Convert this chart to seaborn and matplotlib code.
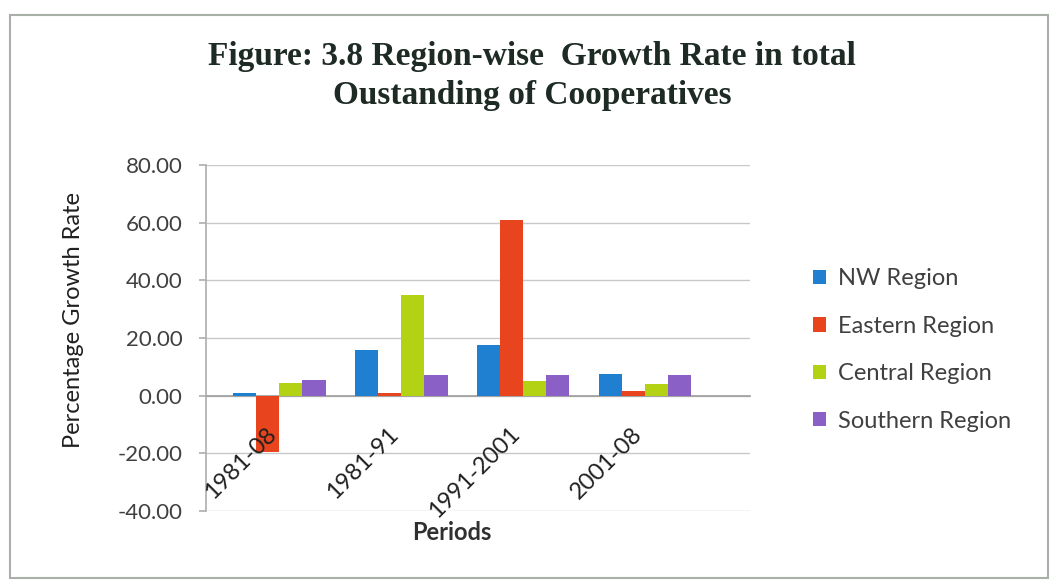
import matplotlib
matplotlib.use("Agg")
import matplotlib.pyplot as plt
import seaborn as sns
import pandas as pd
from matplotlib.patches import Rectangle
from matplotlib.transforms import ScaledTranslation

periods = ["1981-08", "1981-91", "1991-2001", "2001-08"]
regions = ["NW Region", "Eastern Region", "Central Region", "Southern Region"]
nw_region = [1.0, 16.0, 17.5, 7.5]
eastern_region = [-19.5, 1.0, 61.0, 1.5]
central_region = [4.5, 35.0, 5.0, 4.0]
southern_region = [5.5, 7.0, 7.0, 7.0]
yticks = [-40, -20, 0, 20, 40, 60, 80]

colors = ["#1F80D2", "#E8441E", "#B4D214", "#8A5FC6"]

rows = []
for reg, vals in zip(regions, [nw_region, eastern_region, central_region, southern_region]):
    for p, v in zip(periods, vals):
        rows.append({"Period": p, "Region": reg, "Value": v})
df = pd.DataFrame(rows)

sns.set_theme(style="white")
plt.rcParams["font.family"] = ["Lato", "DejaVu Sans"]

fig = plt.figure(figsize=(10.54, 5.83), dpi=100)
W, H = 1054, 583
ax = fig.add_axes([206 / W, 1 - 511 / H, (750 - 206) / W, (511 - 165) / H])

sns.barplot(data=df, x="Period", y="Value", hue="Region", order=periods,
            hue_order=regions, palette=colors, width=0.76, ax=ax,
            saturation=1, edgecolor="none", legend=True, zorder=2)

ax.set_ylim(-40, 80)
ax.set_xlim(-0.6, 3.86)
ax.set_yticks(yticks)
ax.set_yticklabels([f"{t:.2f}" for t in yticks], fontsize=16, color="#404040")
ax.yaxis.grid(False)
ax.xaxis.grid(False)
for t in yticks:
    ax.axhline(t, color="#C8C8C8", linewidth=1.0, zorder=0)
ax.set_axisbelow(False)
for s in ["top", "right"]:
    ax.spines[s].set_visible(False)
ax.spines["left"].set_color("#B0B0B0")
ax.spines["left"].set_zorder(1)
ax.spines["bottom"].set_position(("data", 0))
ax.spines["bottom"].set_color("#A0A0A0")
ax.spines["bottom"].set_zorder(1)
ax.xaxis.set_zorder(5)
ax.tick_params(axis="y", length=5, color="#B0B0B0", pad=12, left=True)
ax.tick_params(axis="x", length=0, pad=20)
ax.set_xticks(range(len(periods)))
ax.set_xticklabels(periods, rotation=45, ha="right", rotation_mode="anchor",
                   fontsize=17, color="#202020")
for lab in ax.get_xticklabels():
    lab.set_transform(lab.get_transform() + ScaledTranslation(-14 / 100, 0, fig.dpi_scale_trans))
ax.set_xlabel("")
ax.set_ylabel("")

handles, labels = ax.get_legend_handles_labels()
ax.legend(handles, labels, loc="center left", bbox_to_anchor=(792 / W, 1 - 350 / H),
          bbox_transform=fig.transFigure, frameon=False, fontsize=17,
          handlelength=0.55, handleheight=0.55, labelspacing=1.12, handletextpad=0.5,
          labelcolor="#404040")

fig.text(73 / W, 1 - 320 / H, "Percentage Growth Rate", rotation=90,
         ha="center", va="center", fontsize=17, color="#202020")
fig.text(452 / W, 1 - 532 / H, "Periods", ha="center", va="center",
         fontsize=17, fontweight="bold", color="#303030")
fig.text(532 / W, 1 - 57 / H, "Figure: 3.8 Region-wise  Growth Rate in total",
         ha="center", va="center", fontsize=24, fontweight="bold",
         family=["Liberation Serif"], color="#1E2A24")
fig.text(532 / W, 1 - 95 / H, "Oustanding of Cooperatives",
         ha="center", va="center", fontsize=24, fontweight="bold",
         family=["Liberation Serif"], color="#1E2A24")

fig.patches.append(Rectangle((10 / W, 1 - 578 / H), 1038 / W, (578 - 15) / H,
                             transform=fig.transFigure, fill=False,
                             edgecolor="#A8B0A8", linewidth=1.5))

fig.savefig("out.png", dpi=100)
